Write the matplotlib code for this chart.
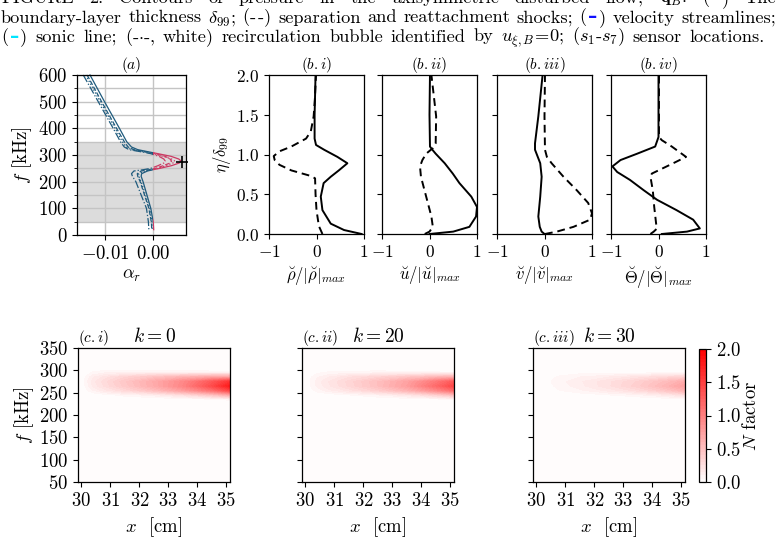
import numpy as np
import matplotlib
matplotlib.use("Agg")
import matplotlib.pyplot as plt
from matplotlib.colors import LinearSegmentedColormap
from matplotlib.patches import Rectangle

plt.rcParams["font.family"] = ["cmr10", "DejaVu Serif"]
plt.rcParams["mathtext.fontset"] = "cm"
plt.rcParams["axes.formatter.use_mathtext"] = True
plt.rcParams["axes.linewidth"] = 0.9

# ---------------- panel (a): alpha_r vs f ----------------
f_a = [600, 500, 400, 350, 330, 320, 312, 305, 295, 285, 277, 270, 260, 250,
       245, 240, 230, 220, 200, 150, 100, 50, 20]
alpha_solid = [-0.0131, -0.0101, -0.0070, -0.0055, -0.0045, -0.0032, -0.0010, 0.0010,
               0.0037, 0.0053, 0.0058, 0.0054, 0.0038, 0.0014, 0.0000, -0.0012,
               -0.0024, -0.0025, -0.0021, -0.0013, -0.0005, 0.0000, 0.0001]
alpha_dash = [-0.0137, -0.0107, -0.0076, -0.0060, -0.0052, -0.0040, -0.0015, 0.0005,
              0.0025, 0.0035, 0.0038, 0.0035, 0.0021, 0.0005, -0.0008, -0.0025,
              -0.0033, -0.0032, -0.0027, -0.0018, -0.0009, -0.0004, -0.0003]
alpha_dashdot = [-0.0145, -0.0114, -0.0083, -0.0068, -0.0060, -0.0050, -0.0025, -0.0005,
                 0.0012, 0.0022, 0.0025, 0.0022, 0.0010, -0.0005, -0.0020, -0.0040,
                 -0.0045, -0.0043, -0.0036, -0.0025, -0.0014, -0.0010, -0.0009]
alpha_dot = [-0.0140, -0.0110, -0.0079, -0.0064, -0.0056, -0.0045, -0.0020, 0.0000,
             0.0020, 0.0038, 0.0045, 0.0041, 0.0027, 0.0010, -0.0002, -0.0018,
             -0.0030, -0.0030, -0.0025, -0.0016, -0.0007, -0.0003, -0.0002]
peak_alpha, peak_f = 0.0059, 275

# ---------------- panels (b): eigenfunction profiles ----------------
eta_rho_s = [0.0, 0.05, 0.13, 0.30, 0.47, 0.64, 0.72, 0.80, 0.89, 0.97, 1.06, 1.12, 1.20, 1.50, 2.0]
rho_s = [0.95, 0.58, 0.30, 0.125, 0.09, 0.15, 0.30, 0.47, 0.65, 0.44, 0.16, -0.01, -0.04, -0.04, -0.02]
eta_rho_d = [0.0, 0.10, 0.30, 0.50, 0.70, 0.73, 0.80, 0.87, 0.93, 0.98, 1.04, 1.10, 1.20, 1.29, 1.48, 1.69, 2.0]
rho_d = [0.125, 0.05, 0.0, -0.02, -0.03, -0.12, -0.53, -0.78, -0.88, -0.90, -0.78, -0.53, -0.22,
         -0.12, -0.06, -0.035, -0.01]

eta_u_s = [0.0, 0.03, 0.09, 0.22, 0.34, 0.47, 0.64, 0.76, 0.89, 1.01, 1.06, 1.10, 1.50, 2.0]
u_s = [0.0, 0.50, 0.84, 0.98, 1.0, 0.88, 0.63, 0.49, 0.32, 0.13, 0.06, 0.01, 0.0, 0.01]
eta_u_d = [0.0, 0.03, 0.09, 0.22, 0.47, 0.72, 0.85, 0.93, 1.01, 1.08, 1.14, 1.48, 2.0]
u_d = [-0.10, 0.0, 0.07, 0.04, -0.07, -0.18, -0.20, -0.15, -0.07, 0.07, 0.13, 0.14, 0.04]

eta_v_s = [0.0, 0.03, 0.09, 0.22, 0.47, 0.72, 0.89, 1.06, 1.14, 1.48, 2.0]
v_s = [0.0, -0.06, -0.10, -0.13, -0.09, -0.06, -0.09, -0.20, -0.20, -0.13, -0.04]
eta_v_d = [0.0, 0.03, 0.09, 0.18, 0.26, 0.39, 0.55, 0.72, 0.89, 0.97, 1.06, 1.48, 2.0]
v_d = [0.01, 0.26, 0.61, 0.96, 1.0, 0.92, 0.68, 0.40, 0.15, 0.05, 0.01, 0.0, 0.01]

eta_t_s = [0.0, 0.03, 0.07, 0.18, 0.30, 0.43, 0.55, 0.68, 0.78, 0.85, 0.93, 1.01, 1.10, 1.22, 2.0]
t_s = [0.07, 0.60, 0.87, 0.73, 0.38, -0.03, -0.31, -0.60, -0.87, -0.97, -0.80, -0.45, -0.07, 0.0, 0.0]
eta_t_d = [0.0, 0.03, 0.07, 0.13, 0.34, 0.55, 0.72, 0.76, 0.89, 0.97, 1.10, 1.18, 1.22, 2.0]
t_d = [-0.17, -0.10, -0.03, -0.05, -0.09, -0.12, -0.17, -0.14, 0.31, 0.58, 0.28, 0.07, 0.01, 0.01]

b_titles = [r"$(b.i)$", r"$(b.ii)$", r"$(b.iii)$", r"$(b.iv)$"]
b_xlabels = [r"$\breve{\rho}/|\breve{\rho}|_{max}$", r"$\breve{u}/|\breve{u}|_{max}$",
             r"$\breve{v}/|\breve{v}|_{max}$", r"$\breve{\Theta}/|\breve{\Theta}|_{max}$"]

# ---------------- panels (c): N factor maps ----------------
x_cm = [29.9, 30.1, 30.4, 30.8, 31.5, 32.5, 33.5, 34.5, 35.15]
f_tab = [50, 55, 65, 215, 235, 245, 255, 265, 275, 285, 295, 305, 350]
N_k0 = [
    [0, 0, 0, 0, 0, 0, 0, 0, 0],
    [0, 0, 0, 0, 0, 0, 0, 0.03, 0.04],
    [0, 0, 0, 0, 0, 0, 0, 0, 0],
    [0, 0, 0, 0, 0, 0, 0, 0, 0.01],
    [0, 0, 0, 0, 0, 0, 0.01, 0.03, 0.06],
    [0, 0, 0.01, 0.03, 0.07, 0.13, 0.25, 0.45, 0.65],
    [0, 0.02, 0.10, 0.18, 0.30, 0.50, 0.75, 1.10, 1.45],
    [0, 0.04, 0.16, 0.26, 0.42, 0.65, 0.95, 1.40, 1.80],
    [0, 0.05, 0.18, 0.28, 0.44, 0.66, 0.92, 1.30, 1.60],
    [0, 0.04, 0.14, 0.22, 0.34, 0.46, 0.58, 0.68, 0.70],
    [0, 0.02, 0.06, 0.09, 0.10, 0.10, 0.09, 0.07, 0.06],
    [0, 0, 0, 0, 0, 0.01, 0.01, 0.01, 0.01],
    [0, 0, 0, 0, 0, 0, 0, 0, 0],
]
N_k20 = [
    [0, 0, 0, 0, 0, 0, 0, 0, 0],
    [0, 0, 0, 0, 0, 0, 0, 0.04, 0.05],
    [0, 0, 0, 0, 0, 0, 0, 0, 0],
    [0, 0, 0, 0, 0, 0, 0, 0, 0],
    [0, 0, 0, 0, 0, 0, 0.01, 0.02, 0.04],
    [0, 0, 0.01, 0.02, 0.05, 0.10, 0.18, 0.35, 0.50],
    [0, 0.02, 0.07, 0.13, 0.22, 0.38, 0.58, 0.90, 1.15],
    [0, 0.03, 0.11, 0.19, 0.31, 0.50, 0.75, 1.15, 1.45],
    [0, 0.03, 0.12, 0.20, 0.32, 0.50, 0.72, 1.05, 1.30],
    [0, 0.03, 0.09, 0.15, 0.24, 0.34, 0.44, 0.55, 0.60],
    [0, 0.01, 0.04, 0.06, 0.07, 0.08, 0.07, 0.06, 0.05],
    [0, 0, 0, 0, 0, 0, 0, 0, 0],
    [0, 0, 0, 0, 0, 0, 0, 0, 0],
]
N_k30 = [
    [0, 0, 0, 0, 0, 0, 0, 0, 0],
    [0, 0, 0, 0, 0, 0, 0, 0.03, 0.04],
    [0, 0, 0, 0, 0, 0, 0, 0, 0],
    [0, 0, 0, 0, 0, 0, 0, 0, 0],
    [0, 0, 0, 0, 0, 0, 0, 0.01, 0.02],
    [0, 0, 0, 0.01, 0.02, 0.05, 0.09, 0.17, 0.25],
    [0, 0, 0.02, 0.05, 0.09, 0.17, 0.28, 0.45, 0.60],
    [0, 0.01, 0.03, 0.07, 0.13, 0.24, 0.38, 0.58, 0.75],
    [0, 0.01, 0.04, 0.08, 0.14, 0.24, 0.36, 0.52, 0.65],
    [0, 0.01, 0.03, 0.06, 0.10, 0.15, 0.22, 0.30, 0.35],
    [0, 0, 0.01, 0.02, 0.03, 0.03, 0.03, 0.03, 0.03],
    [0, 0, 0, 0, 0, 0, 0, 0, 0],
    [0, 0, 0, 0, 0, 0, 0, 0, 0],
]
c_tags = [r"$(c.i)$", r"$(c.ii)$", r"$(c.iii)$"]
c_k = [r"$k=0$", r"$k=20$", r"$k=30$"]

# caption lines (top one is cut off in the reference)
cap1 = r"FIGURE 2. Contours of pressure in the axisymmetric disturbed flow, $\mathbf{q}_B$. (@K) The"
cap2 = r"boundary-layer thickness $\delta_{99}$; (-$\,$-) separation and reattachment shocks; (@B) velocity streamlines;"
cap3 = r"(@C) sonic line; (-$\cdot$-, white) recirculation bubble identified by $u_{\xi,B}\!=\!0$; ($s_1$-$s_7$) sensor locations."

W, H = 777, 560
fig = plt.figure(figsize=(W / 100, H / 100), dpi=100)
renderer = fig.canvas.get_renderer()

def box(l, r, t, b):
    return [l / W, 1 - b / H, (r - l) / W, (b - t) / H]

dash_colors = {"@K": "black", "@B": "#1010ff", "@C": "#00e5ff"}

def caption_line(text, ybase, x1, fs=13.2):
    groups = []
    for w in text.split(" "):
        key = next((k for k in dash_colors if k in w), None)
        if key:
            a, b = w.split(key)
            segs = [(a, "black"), ("\u2013", dash_colors[key]), (b, "black")]
        else:
            segs = [(w, "black")]
        arts = []
        tot = 0
        for s, c in segs:
            if not s:
                continue
            if s == "\u2013":
                t = fig.text(0, 1 - ybase / H, s, color=c, fontsize=fs, va="baseline",
                             family="DejaVu Sans", fontweight="bold")
                wd = t.get_window_extent(renderer=renderer).width
                arts.append((None, 1.5))
                arts.append((t, wd + 1.5))
                tot += wd + 3
            else:
                t = fig.text(0, 1 - ybase / H, s, color=c, fontsize=fs, va="baseline")
                wd = t.get_window_extent(renderer=renderer).width
                arts.append((t, wd))
                tot += wd
        groups.append((arts, tot))
    gap = (x1 - 1 - sum(g[1] for g in groups)) / (len(groups) - 1)
    x = 1
    for arts, tot in groups:
        xx = x
        for t, wd in arts:
            if t is not None:
                t.set_x(xx / W)
            xx += wd
        x += tot + gap

caption_line(cap1, 3, 776)
caption_line(cap2, 22.5, 776)
caption_line(cap3, 41.5, 765)

# ---- (a)
blue, red = "#1f5b7d", "#cc3a63"
ax = fig.add_axes(box(77, 186, 75, 235))
ax.axhspan(50, 350, color="#dcdcdc", zorder=0, lw=0)
ax.set_xlim(-0.0158, 0.0068)
ax.set_ylim(0, 600)
ax.set_yticks(range(0, 601, 100))
ax.set_yticks(range(50, 600, 100), minor=True)
ax.set_xticks([-0.01, 0.0])
ax.set_xticklabels([r"$-0.01$", r"$0.00$"])
ax.grid(True, which="both", axis="y", color="#c4c4c4", lw=1.0)
ax.grid(True, which="major", axis="x", color="#c4c4c4", lw=1.0)
ax.set_axisbelow(True)
for a, ls in zip([alpha_solid, alpha_dash, alpha_dashdot, alpha_dot], ["-", "--", "-.", ":"]):
    lb, = ax.plot(a, f_a, color=blue, ls=ls, lw=0.9)
    lb.set_clip_path(Rectangle((-1, -1000), 1, 3000, transform=ax.transData))
    lr, = ax.plot(a, f_a, color=red, ls=ls, lw=0.9)
    lr.set_clip_path(Rectangle((0, -1000), 1, 3000, transform=ax.transData))
ax.plot([peak_alpha], [peak_f], marker="+", color="black", ms=8, mew=1.2, clip_on=False)
ax.tick_params(labelsize=13.5)
ax.set_title(r"$(a)$", fontsize=11, pad=4)
ax.set_xlabel(r"$\alpha_r$", fontsize=13)
ax.set_ylabel(r"$f$ [kHz]", fontsize=13.5, labelpad=3)

# ---- (b)
b_boxes = [(269, 364), (382, 477), (497, 592), (611, 706)]
profiles = [(rho_s, eta_rho_s, rho_d, eta_rho_d), (u_s, eta_u_s, u_d, eta_u_d),
            (v_s, eta_v_s, v_d, eta_v_d), (t_s, eta_t_s, t_d, eta_t_d)]
for i, ((l, r), (xs, ys, xd, yd)) in enumerate(zip(b_boxes, profiles)):
    bx = fig.add_axes(box(l, r, 75, 234))
    bx.plot(xs, ys, color="black", lw=1.4)
    bx.plot(xd, yd, color="black", lw=1.4, ls=(0, (4, 2.5)))
    bx.set_xlim(-1, 1)
    bx.set_ylim(0, 2)
    bx.set_xticks([-1, 0, 1])
    bx.set_xticklabels([r"$-1$", r"$0$", r"$1$"])
    bx.set_yticks([0, 0.5, 1.0, 1.5, 2.0])
    bx.tick_params(labelsize=12.5)
    if i == 0:
        bx.set_ylabel(r"$\eta/\delta_{99}$", fontsize=12, labelpad=2)
    else:
        bx.set_yticklabels([])
    bx.set_title(b_titles[i], fontsize=11, pad=4)
    bx.set_xlabel(b_xlabels[i], fontsize=12)

# ---- (c)
cmap = LinearSegmentedColormap.from_list("wr", ["#ffffff", "#ff0000"])
levels = np.linspace(0, 2, 41)
c_boxes = [(78, 230), (302, 454), (533, 685)]
for i, ((l, r), N) in enumerate(zip(c_boxes, [N_k0, N_k20, N_k30])):
    cx = fig.add_axes(box(l, r, 348, 482))
    cs = cx.contourf(x_cm, f_tab, np.array(N), levels=levels, cmap=cmap, vmin=0, vmax=2)
    cx.set_xlim(29.88, 35.13)
    cx.set_ylim(50, 350)
    cx.set_xticks([30, 31, 32, 33, 34, 35])
    cx.set_yticks(range(50, 351, 50))
    cx.tick_params(labelsize=13.5)
    if i == 0:
        cx.set_ylabel(r"$f$ [kHz]", fontsize=13.5, labelpad=2)
    else:
        cx.set_yticklabels([])
    cx.set_xlabel(r"$x$  [cm]", fontsize=13.5)
    cx.set_title(c_tags[i], fontsize=11, loc="left", pad=5)
    cx.set_title(c_k[i], fontsize=14, pad=4)

cax = fig.add_axes(box(699, 706, 349, 482))
cb = fig.colorbar(cs, cax=cax)
cb.set_ticks([0, 0.5, 1.0, 1.5, 2.0])
cb.ax.tick_params(labelsize=13.5)
cb.set_label(r"$N$ factor", fontsize=13.5, labelpad=1)

fig.savefig("out.png", dpi=100)
